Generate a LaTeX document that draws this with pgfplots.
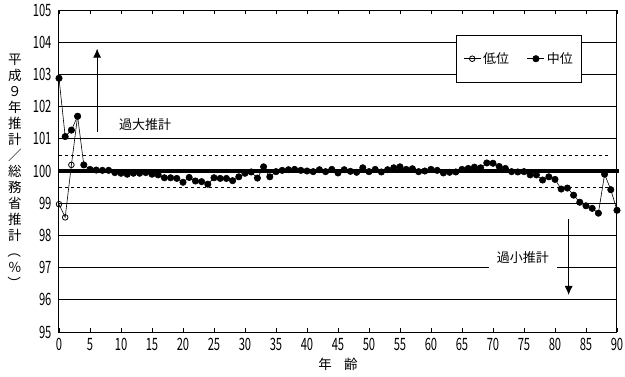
\documentclass[border=0pt]{standalone}
\usepackage{pgfplots}
\pgfplotsset{compat=1.18}
\usepackage{pgfplotstable}
\usetikzlibrary{arrows.meta}
\usepackage{fontspec}
\setmainfont{Noto Sans CJK JP}
\pgfplotstableread{
age val
0 98.97
1 98.56
2 100.19
3 101.70
}\lowdata
\pgfplotstableread{
age val
0 102.88
1 101.07
2 101.27
3 101.70
4 100.19
5 100.05
6 100.03
7 100.02
8 100.02
9 99.95
10 99.93
11 99.90
12 99.93
13 99.93
14 99.95
15 99.90
16 99.88
17 99.79
18 99.79
19 99.77
20 99.65
21 99.80
22 99.69
23 99.67
24 99.59
25 99.79
26 99.77
27 99.77
28 99.70
29 99.82
30 99.93
31 99.97
32 99.78
33 100.13
34 99.82
35 99.98
36 100.02
37 100.04
38 100.05
39 100.02
40 100.00
41 99.98
42 100.04
43 99.98
44 100.05
45 99.94
46 100.04
47 99.99
48 99.96
49 100.10
50 99.98
51 100.05
52 99.97
53 100.04
54 100.10
55 100.13
56 100.05
57 100.07
58 99.98
59 100.00
60 100.05
61 100.02
62 99.94
63 99.96
64 99.97
65 100.05
66 100.08
67 100.12
68 100.10
69 100.25
70 100.24
71 100.14
72 100.08
73 99.98
74 99.97
75 99.98
76 99.88
77 99.88
78 99.72
79 99.82
80 99.74
81 99.44
82 99.47
83 99.25
84 99.03
85 98.92
86 98.84
87 98.69
88 99.90
89 99.42
90 98.78
}\middata
\begin{document}
\begin{tikzpicture}
\begin{axis}[
  scale only axis,
  width=558pt, height=322pt,
  xmin=0, xmax=90, ymin=95, ymax=105,
  xtick={0,5,...,90}, ytick={95,96,...,105},
  ymajorgrids,
  grid style={black, line width=0.8pt},
  axis line style={black, line width=1pt},
  x axis line style={line width=1.2pt},
  xtick align=inside,
  major tick length=4pt,
  ytick style={draw=none},
  xtick style={black, line width=0.8pt},
  /pgf/number format/assume math mode=true,
  tick label style={font=\fontsize{17}{17}\selectfont},
  xticklabel={\scalebox{0.66}[1]{\pgfmathprintnumber{\tick}}},
  yticklabel={\scalebox{0.66}[1]{\pgfmathprintnumber{\tick}}},
  yticklabel style={xshift=-4pt},
  xticklabel style={yshift=-3pt},
  xlabel={年\hspace{0.9em}齢},
  xlabel style={font=\fontsize{13.5}{13.5}\selectfont, yshift=0pt},
  legend columns=2,
  legend style={at={(rel axis cs:0.7115,0.922)}, anchor=north west,
    draw=black, line width=0.8pt, fill=white, font=\fontsize{13}{13}\selectfont,
    inner xsep=7pt, inner ysep=15pt,
    /tikz/every even column/.append style={column sep=16pt}},
  legend cell align=left,
  clip=false,
]
\addplot[black, dash pattern=on 3pt off 3pt, line width=0.8pt, forget plot] coordinates {(0,100.5) (89,100.5)};
\addplot[black, dash pattern=on 3pt off 3pt, line width=0.8pt, forget plot] coordinates {(0,99.5) (89,99.5)};
\addplot[black, line width=4pt, forget plot] coordinates {(0,100) (90.3,100)};
\draw[black, line width=0.8pt, -{Latex[length=9pt,width=8pt]}] (axis cs:6.15,101.21) -- (axis cs:6.15,103.8);
\draw[black, line width=0.8pt, -{Latex[length=9pt,width=8pt]}] (axis cs:82.2,98.5) -- (axis cs:82.2,96.15);
\node[fill=white, inner xsep=8pt, inner ysep=6pt, font=\fontsize{13}{13}\selectfont] at (axis cs:74.8,97.3) {過小推計};
\node[font=\fontsize{13}{13}\selectfont] at (axis cs:13.9,101.45) {過大推計};
\addplot[black, line width=0.6pt, mark=o, mark size=2.8pt, mark options={fill=white, line width=0.8pt}] table[x=age, y=val] {\lowdata};
\addlegendentry{低位}
\addplot[black, line width=0.6pt, mark=*, mark size=3.2pt] table[x=age, y=val] {\middata};
\addlegendentry{中位}
\end{axis}
\node[align=center, inner sep=0pt, font=\fontsize{13.5}{16}\selectfont] at ([xshift=-44pt,yshift=-1pt]current axis.west) {平\\成\\９\\年\\推\\計\\／\\総\\務\\省\\推\\計\\\rotatebox[origin=c]{-90}{（}\\％\\\rotatebox[origin=c]{-90}{）}};
\pgfresetboundingbox
\path[use as bounding box] (current axis.south west) ++(-59pt,-44pt) rectangle ++(625pt,376pt);
\end{tikzpicture}
\end{document}
